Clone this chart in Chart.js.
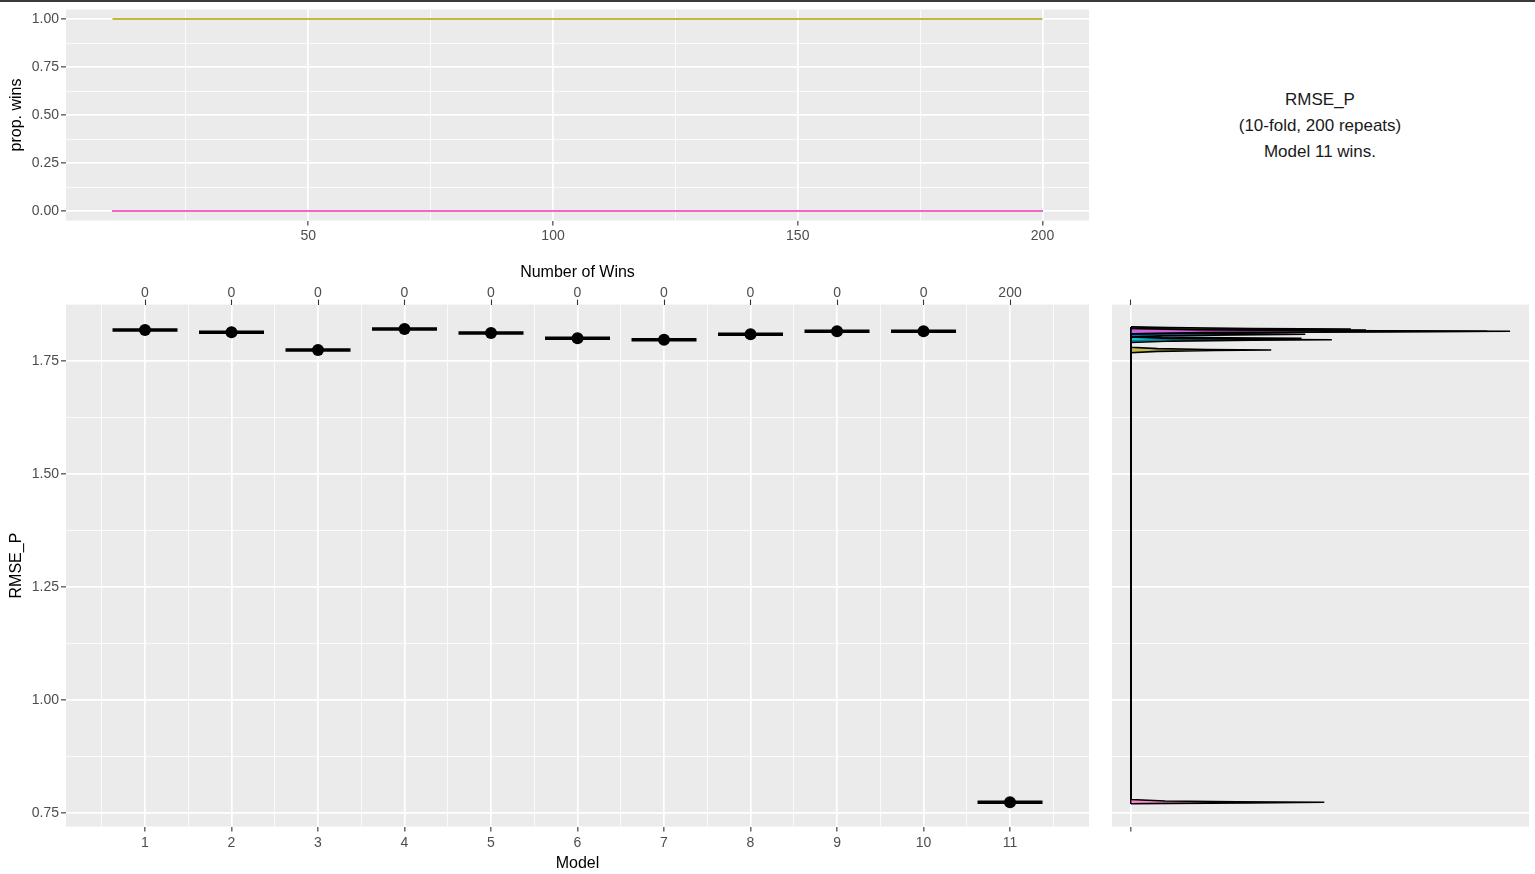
<!DOCTYPE html>
<html><head><meta charset="utf-8">
<script src="https://cdn.jsdelivr.net/npm/chart.js@4.4.1/dist/chart.umd.min.js"></script>
<style>
html,body{margin:0;padding:0;background:#fff;width:1535px;height:874px;overflow:hidden;font-family:"Liberation Sans",Arial,sans-serif;}
canvas{position:absolute;}
#topline{position:absolute;left:0;top:0;width:1535px;height:2px;background:#3a3a3a;}
#note{position:absolute;left:1100px;top:87px;width:440px;text-align:center;font-size:17px;line-height:26px;color:#1a1a1a;}
</style></head><body>
<div id="topline"></div>
<canvas id="c1" width="1100" height="250" style="left:0;top:0;width:1100px;height:250px"></canvas>
<canvas id="c2" width="1100" height="624" style="left:0;top:250px;width:1100px;height:624px"></canvas>
<canvas id="c3" width="435" height="624" style="left:1100px;top:250px;width:435px;height:624px"></canvas>
<div id="note">RMSE_P<br>(10-fold, 200 repeats)<br>Model 11 wins.</div>
<script>
// ---------- data ----------
const models = [1, 2, 3, 4, 5, 6, 7, 8, 9, 10, 11];
const winsCount = [0, 0, 0, 0, 0, 0, 0, 0, 0, 0, 200];
const medianRmse = [1.8186, 1.8135, 1.7743, 1.8208, 1.8119, 1.8002, 1.7971, 1.8091, 1.8157, 1.8157, 0.7737];

const repeats = [10, 25, 50, 75, 100, 125, 150, 175, 200];
const propWinsWinner = [1, 1, 1, 1, 1, 1, 1, 1, 1];
const propWinsOther = [0, 0, 0, 0, 0, 0, 0, 0, 0];
const levelOrder = ['1', '10', '11', '2', '3', '4', '5', '6', '7', '8', '9'];
const winnerLevel = '11';

const propTicks = [0, 0.25, 0.5, 0.75, 1.0];
const repeatTicks = [50, 100, 150, 200];
const rmseTicks = [0.75, 1.0, 1.25, 1.5, 1.75];

const hue11 = ['#F8766D', '#DB8E00', '#AEA200', '#64B200', '#00BD5C', '#00C1A7', '#00BADE', '#00A6FF', '#B385FF', '#EF67EB', '#FF63B6'];

// densities: [RMSE, density] pairs (density in relative units, max = 100)
const dens1  = [[0.7705,0],[1.8126,0],[1.8156,12],[1.8174,37],[1.8186,62],[1.8198,34],[1.8216,11],[1.8246,0],[1.8255,0]];
const dens2  = [[0.7705,0],[1.8075,0],[1.8105,9],[1.8123,27],[1.8135,45],[1.8147,25],[1.8165,8],[1.8195,0],[1.8255,0]];
const dens3  = [[0.7705,0],[1.7683,0],[1.7713,7],[1.7731,22],[1.7743,37],[1.7755,20],[1.7773,7],[1.7803,0],[1.8255,0]];
const dens4  = [[0.7705,0],[1.8148,0],[1.8178,12],[1.8196,35],[1.8208,58],[1.8220,32],[1.8238,10],[1.8255,0]];
const dens5  = [[0.7705,0],[1.8059,0],[1.8089,6],[1.8107,18],[1.8119,30],[1.8131,17],[1.8149,5],[1.8179,0],[1.8255,0]];
const dens6  = [[0.7705,0],[1.7942,0],[1.7972,9],[1.7990,27],[1.8002,45],[1.8014,25],[1.8032,8],[1.8062,0],[1.8255,0]];
const dens7  = [[0.7705,0],[1.7911,0],[1.7941,11],[1.7959,32],[1.7971,53],[1.7983,29],[1.8001,10],[1.8031,0],[1.8255,0]];
const dens8  = [[0.7705,0],[1.8031,0],[1.8061,9],[1.8079,28],[1.8091,46],[1.8103,25],[1.8121,8],[1.8151,0],[1.8255,0]];
const dens9  = [[0.7705,0],[1.8097,0],[1.8127,20],[1.8145,60],[1.8157,100],[1.8169,55],[1.8187,18],[1.8217,0],[1.8255,0]];
const dens10 = [[0.7705,0],[1.8100,0],[1.8130,19],[1.8148,56],[1.8160,94],[1.8172,52],[1.8190,17],[1.8220,0],[1.8255,0]];
const dens11 = [[0.7705,0],[0.7712,10],[0.7725,31],[0.7737,51],[0.7749,28],[0.7767,9],[0.7797,0],[1.8255,0]];
const densities = [dens1, dens2, dens3, dens4, dens5, dens6, dens7, dens8, dens9, dens10, dens11];

// ---------- shared styling ----------
Chart.defaults.font.family = '"Liberation Sans", Arial, sans-serif';
Chart.defaults.color = '#4D4D4D';
const tickFont = {size: 14};
const titleFont = {size: 16};
const panelBg = {
  id: 'panelBg',
  beforeDraw(chart) {
    const {ctx, chartArea: a} = chart;
    ctx.save();
    ctx.fillStyle = '#EBEBEB';
    ctx.fillRect(a.left, a.top, a.right - a.left, a.bottom - a.top);
    ctx.restore();
  }
};
function withMinor(majors) {
  const out = [];
  for (let i = 0; i < majors.length; i++) {
    if (i > 0) out.push((majors[i - 1] + majors[i]) / 2);
    out.push(majors[i]);
  }
  return out;
}
function isIn(arr, v) { return arr.some(a => Math.abs(a - v) < 1e-9); }
function grid(majors, opts = {}) {
  return Object.assign({
    color: '#FFFFFF',
    lineWidth: c => isIn(majors, c.tick.value) ? 1.7 : 0.8,
    tickColor: c => isIn(majors, c.tick.value) ? '#333333' : 'rgba(0,0,0,0)',
    tickLength: 5,
    tickWidth: 1.1,
    drawTicks: true
  }, opts);
}
function fixH(h) { return s => { s.height = h; s.paddingLeft = 0; s.paddingRight = 0; s.paddingTop = 0; s.paddingBottom = 0; }; }
function fixW(w) { return s => { s.width = w; s.paddingLeft = 0; s.paddingRight = 0; s.paddingTop = 0; s.paddingBottom = 0; }; }
const baseOpts = {
  responsive: false, animation: false, events: [],
  plugins: {legend: {display: false}, tooltip: {enabled: false}}
};

// ---------- chart 1: proportion of wins ----------
const xRepeatAll = [25].concat(withMinor(repeatTicks));
new Chart(document.getElementById('c1'), {
  type: 'line',
  data: {
    datasets: levelOrder.map((lv, i) => ({
      label: 'Model ' + lv,
      data: repeats.map((r, j) => ({x: r, y: (lv === winnerLevel ? propWinsWinner : propWinsOther)[j]})),
      borderColor: hue11[i], borderWidth: 1.7, pointRadius: 0, fill: false, tension: 0,
      order: levelOrder.length - i
    }))
  },
  options: Object.assign({}, baseOpts, {
    layout: {autoPadding: false, padding: {top: 9.4, right: 11, left: 0, bottom: 0}},
    scales: {
      x: {
        type: 'linear', min: 0.5, max: 209.5,
        afterBuildTicks: s => { s.ticks = xRepeatAll.map(v => ({value: v})); },
        afterFit: fixH(29.4),
        ticks: {font: tickFont, autoSkip: false, maxRotation: 0, padding: 2,
                callback: v => isIn(repeatTicks, v) ? String(v) : ''},
        grid: grid(repeatTicks), border: {display: false}
      },
      y: {
        type: 'linear', min: -0.05, max: 1.05,
        afterBuildTicks: s => { s.ticks = withMinor(propTicks).map(v => ({value: v})); },
        afterFit: fixW(66),
        ticks: {font: tickFont, autoSkip: false, padding: 2,
                callback: v => isIn(propTicks, v) ? v.toFixed(2) : ''},
        grid: grid(propTicks), border: {display: false},
        title: {display: true, text: 'prop. wins', color: '#000', font: titleFont, padding: {top: 7.4, bottom: 0}}
      }
    }
  }),
  plugins: [panelBg]
});

// ---------- chart 2: RMSE per model ----------
const yMin = 0.7199, yMax = 1.8748;
const modelPts = models.map((m, i) => ({x: m, y: medianRmse[i]}));
new Chart(document.getElementById('c2'), {
  type: 'scatter',
  data: {
    datasets: [
      {label: 'median', data: modelPts, pointStyle: 'circle', pointRadius: 6,
       pointBackgroundColor: '#000', pointBorderColor: '#000', pointBorderWidth: 0},
      {label: 'box', data: modelPts, pointStyle: 'line', pointRadius: 32.5,
       pointBorderColor: '#000', pointBorderWidth: 3.5, pointBackgroundColor: '#000'}
    ]
  },
  options: Object.assign({}, baseOpts, {
    layout: {autoPadding: false, padding: {top: 0, right: 11, left: 0, bottom: 0}},
    scales: {
      x: {
        type: 'linear', position: 'bottom', min: 0.0867, max: 11.913,
        afterBuildTicks: s => { s.ticks = withMinor(models).concat([0.5, 11.5]).sort((a, b) => a - b).map(v => ({value: v})); },
        afterFit: fixH(47.4),
        ticks: {font: tickFont, autoSkip: false, maxRotation: 0, padding: 3,
                callback: v => isIn(models, v) ? String(v) : ''},
        grid: grid(models), border: {display: false},
        title: {display: true, text: 'Model', color: '#000', font: titleFont, padding: {top: 0, bottom: 0.4}}
      },
      xTop: {
        type: 'linear', position: 'top', min: 0.0867, max: 11.913,
        afterBuildTicks: s => { s.ticks = models.map(v => ({value: v})); },
        afterFit: fixH(54.6),
        ticks: {font: tickFont, autoSkip: false, maxRotation: 0, padding: -2,
                callback: v => String(winsCount[Math.round(v) - 1])},
        grid: {drawOnChartArea: false, tickColor: '#333333', tickLength: 5, tickWidth: 1.1},
        border: {display: false},
        title: {display: true, text: 'Number of Wins', color: '#000', font: titleFont, padding: {top: 13.4, bottom: 0}}
      },
      y: {
        type: 'linear', min: yMin, max: yMax,
        afterBuildTicks: s => { s.ticks = withMinor(rmseTicks).map(v => ({value: v})); },
        afterFit: fixW(66),
        ticks: {font: tickFont, autoSkip: false, padding: 2,
                callback: v => isIn(rmseTicks, v) ? v.toFixed(2) : ''},
        grid: grid(rmseTicks), border: {display: false},
        title: {display: true, text: 'RMSE_P', color: '#000', font: titleFont, padding: {top: 7.4, bottom: 0}}
      }
    }
  }),
  plugins: [panelBg]
});

// ---------- chart 3: density of RMSE (flipped) ----------
new Chart(document.getElementById('c3'), {
  type: 'line',
  data: {
    datasets: densities.map((d, i) => ({
      label: 'Model ' + models[i],
      data: d.map(p => ({x: p[1], y: p[0]})),
      borderColor: '#000', borderWidth: 1.6, pointRadius: 0, tension: 0,
      backgroundColor: hue11[i] + 'B0', fill: 'origin',
      order: densities.length - i
    }))
  },
  options: Object.assign({}, baseOpts, {
    indexAxis: 'y',
    layout: {autoPadding: false, padding: {top: 0, right: 6, left: 0, bottom: 0}},
    scales: {
      x: {
        type: 'linear', position: 'bottom', min: -5, max: 105,
        afterBuildTicks: s => { s.ticks = [{value: 0}]; },
        afterFit: fixH(47.4),
        ticks: {font: tickFont, callback: () => ''},
        grid: grid([0]), border: {display: false}
      },
      xTop: {
        type: 'linear', position: 'top', min: -5, max: 105,
        afterBuildTicks: s => { s.ticks = [{value: 0}]; },
        afterFit: fixH(54.6),
        ticks: {font: tickFont, callback: () => ''},
        grid: {drawOnChartArea: false, tickColor: '#333333', tickLength: 5, tickWidth: 1.1},
        border: {display: false}
      },
      y: {
        type: 'linear', min: yMin, max: yMax,
        afterBuildTicks: s => { s.ticks = withMinor(rmseTicks).map(v => ({value: v})); },
        afterFit: fixW(12),
        ticks: {display: false},
        grid: grid(rmseTicks, {drawTicks: false}), border: {display: false}
      }
    }
  }),
  plugins: [panelBg]
});
</script>
</body></html>
